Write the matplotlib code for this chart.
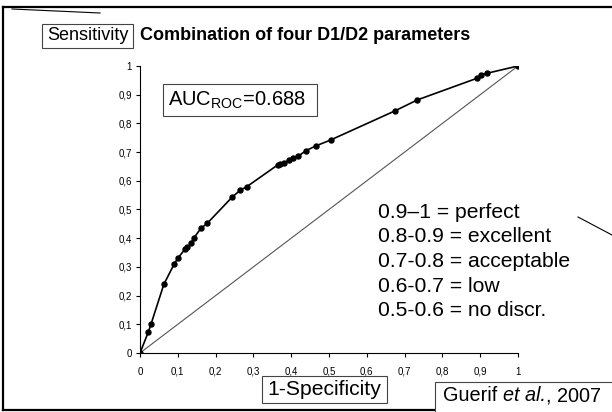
import matplotlib
matplotlib.use("Agg")
import matplotlib.pyplot as plt
from matplotlib.lines import Line2D
from matplotlib.patches import Rectangle

# ---- data ----
fpr = [0.0, 0.022, 0.029, 0.063, 0.090, 0.100, 0.119, 0.125, 0.135, 0.142,
       0.161, 0.178, 0.243, 0.265, 0.282, 0.364, 0.370, 0.381, 0.395, 0.404,
       0.419, 0.439, 0.466, 0.504, 0.675, 0.734, 0.891, 0.902, 0.919, 1.0]
tpr = [0.0, 0.073, 0.100, 0.239, 0.309, 0.330, 0.362, 0.368, 0.382, 0.400,
       0.434, 0.452, 0.542, 0.567, 0.579, 0.655, 0.658, 0.661, 0.672, 0.678,
       0.686, 0.705, 0.722, 0.742, 0.844, 0.882, 0.957, 0.969, 0.975, 1.0]
ref_x = [0, 1]
ref_y = [0, 1]
ticks = [0, 0.1, 0.2, 0.3, 0.4, 0.5, 0.6, 0.7, 0.8, 0.9, 1.0]
tick_labels = ["0", "0,1", "0,2", "0,3", "0,4", "0,5", "0,6", "0,7", "0,8", "0,9", "1"]
title = "Combination of four D1/D2 parameters"
legend_lines = ["0.9\u20131 = perfect", "0.8-0.9 = excellent", "0.7-0.8 = acceptable",
                "0.6-0.7 = low", "0.5-0.6 = no discr."]

plt.rcParams['font.family'] = ['Liberation Sans', 'DejaVu Sans']
plt.rcParams['mathtext.fontset'] = 'custom'
plt.rcParams['mathtext.rm'] = 'Liberation Sans'
plt.rcParams['mathtext.it'] = 'Liberation Sans:italic'

W, H = 612, 412
fig = plt.figure(figsize=(W / 100, H / 100), dpi=100)

def fx(px):
    return px / W

def fy(py):
    return 1 - py / H

ax = fig.add_axes([fx(140), fy(353), (518 - 140) / W, (353 - 66) / H])
ax.plot(ref_x, ref_y, color='#555555', lw=0.8)
ax.plot(fpr, tpr, color='black', lw=1.2, marker='o', ms=3.6)
ax.set_xlim(0, 1)
ax.set_ylim(0, 1)
ax.spines['top'].set_visible(False)
ax.spines['right'].set_visible(False)
for s in ('left', 'bottom'):
    ax.spines[s].set_linewidth(0.8)
ax.set_xticks(ticks)
ax.set_yticks(ticks)
narrow = ['Liberation Sans Narrow', 'Liberation Sans']
ax.set_xticklabels(tick_labels, family=narrow, fontsize=7)
ax.set_yticklabels(tick_labels, family=narrow, fontsize=7)
ax.tick_params(axis='x', direction='out', length=3, width=0.8, pad=7)
ax.tick_params(axis='y', direction='out', length=3, width=0.8, pad=3)
ax.patch.set_alpha(0)

# boxes
def box(x0, y0, x1, y1):
    fig.patches.append(Rectangle((fx(x0), fy(y1)), fx(x1) - fx(x0), fy(y0) - fy(y1),
                                 transform=fig.transFigure, fill=True, facecolor='white',
                                 edgecolor='#444444', lw=0.8, zorder=3))

box(42, 24, 133, 48)
fig.text(fx(88), fy(36), "Sensitivity", ha='center', va='center', fontsize=13, zorder=4)
fig.text(fx(140), fy(36), title, ha='left', va='center', fontsize=13, fontweight='bold')

box(163, 84, 317, 116)
fig.text(fx(168), fy(100), r"AUC$_{\mathrm{ROC}}$=0.688", ha='left', va='center',
         fontsize=14.5, zorder=4)

box(262, 376, 387, 403)
fig.text(fx(324.5), fy(389.5), "1-Specificity", ha='center', va='center', fontsize=15.2, zorder=4)

box(435, 382, 640, 415)
fs_g = 14.3
t1 = fig.text(fx(443), fy(401), "Guerif ", ha='left', va='baseline', fontsize=fs_g, zorder=4)
t2 = fig.text(0, 0, "et al.", ha='left', va='baseline', fontsize=fs_g, style='italic', zorder=4)
t2.set_position((0, 0))
t3 = fig.text(0, 0, ", 2007", ha='left', va='baseline', fontsize=fs_g, zorder=4)

fig.canvas.draw()
r = fig.canvas.get_renderer()
bb1 = t1.get_window_extent(r)
t2.set_position((bb1.x1 / fig.bbox.width, fy(401)))
bb2 = t2.get_window_extent(r)
t3.set_position((bb2.x1 / fig.bbox.width, fy(401)))

for i, line in enumerate(legend_lines):
    fig.text(fx(378), fy(212 + i * 24.7), line, ha='left', va='center', fontsize=15.2)

# frame and stray lines
fig.lines.append(Line2D([fx(3.5), fx(3.5)], [fy(6.5), fy(410)], transform=fig.transFigure, color='black', lw=1.6))
fig.lines.append(Line2D([fx(3.5), fx(612)], [fy(6.5), fy(6.5)], transform=fig.transFigure, color='black', lw=1.6))
fig.lines.append(Line2D([fx(3.5), fx(612)], [fy(410), fy(410)], transform=fig.transFigure, color='black', lw=1.6))
fig.lines.append(Line2D([fx(12), fx(100)], [fy(9), fy(13)], transform=fig.transFigure, color='black', lw=0.8))
fig.lines.append(Line2D([fx(578), fx(612)], [fy(217), fy(235)], transform=fig.transFigure, color='black', lw=0.8))

fig.savefig("out.png", dpi=100, facecolor='white')
